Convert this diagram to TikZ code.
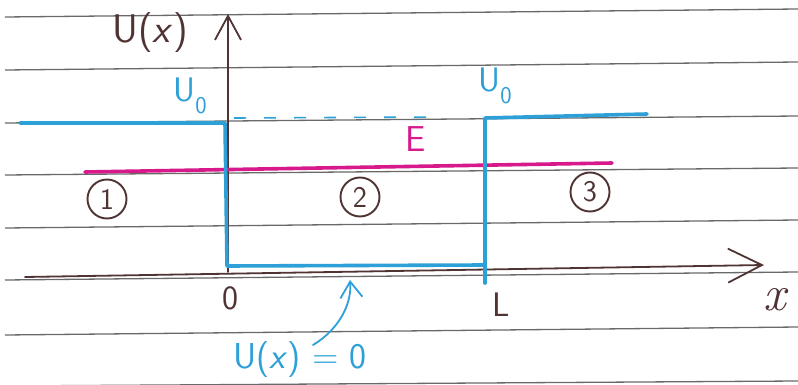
\documentclass[tikz,border=0pt]{standalone}
\usepackage{fontspec}
\usetikzlibrary{arrows.meta}
\definecolor{potblue}{RGB}{45,160,215}
\definecolor{emag}{RGB}{215,25,140}
\definecolor{ink}{RGB}{80,52,52}
\definecolor{rulegray}{RGB}{105,105,105}
\begin{document}
\begin{tikzpicture}[x=1pt,y=-1pt,
  rule/.style={draw=rulegray,line width=1.3pt},
  axisline/.style={draw=ink,line width=1.8pt,line cap=round},
  pot/.style={draw=potblue,line width=3.6pt,line join=round,line cap=round},
  lbl/.style={inner sep=0pt,font=\sffamily\fontsize{#1}{#1}\selectfont},
  region/.style={circle,draw=ink,line width=1.9pt,minimum size=39pt,inner sep=0pt,text=ink,font=\sffamily\fontsize{30}{30}\selectfont}
]
\useasboundingbox (0,0) rectangle (798,385);
\fill[white] (0,0) rectangle (798,385);
% ruled paper
\foreach \yl/\yr in {17/9,70/62,123/116,175/168,228/220,280/272,335/327,386/381}
  \draw[rule] (5,\yl) -- (798,\yr);
% coordinates
\coordinate (yb) at (228,272);
\coordinate (yt) at (228,14);
\coordinate (xl) at (25,277);
\coordinate (xr) at (764,265);
\coordinate (p1) at (20,123);
\coordinate (p2) at (225,123);
\coordinate (p3) at (227,266);
\coordinate (p4) at (485,265);
\coordinate (p5) at (485,118);
\coordinate (p6) at (647,114);
\coordinate (pb) at (485,283);
\coordinate (d1) at (234,118);
\coordinate (d2) at (440,117);
\coordinate (e1) at (85,172);
\coordinate (e2) at (612,163);
\coordinate (a1) at (313,345);
\coordinate (a2) at (350,280);
% axes
\draw[axisline,-{Straight Barb[length=24pt,width=26pt,line width=1.8pt]}] (yb) -- (yt);
\draw[axisline,-{Straight Barb[length=34pt,width=34pt,line width=1.8pt]}] (xl) -- (xr);
% energy level
\draw[draw=emag,line width=3.6pt,line cap=round] (e1) -- (e2);
% potential
\draw[pot] (p1) -- (p2) -- (p3) -- (p4) -- (p5) -- (p6);
\draw[pot] (p4) -- (pb);
\draw[draw=potblue,line width=1.6pt,dash pattern=on 12pt off 18pt] (d1) -- (d2);
% labels
\node[lbl=40,text=ink] (ulab) at (150,33) {U(\textit{x})};
\node[lbl=34,text=potblue] (u0l) at (190,96) {U\raisebox{-12pt}{\fontsize{24}{24}\selectfont 0}};
\node[lbl=34,text=potblue] (u0r) at (495,86) {U\raisebox{-12pt}{\fontsize{24}{24}\selectfont 0}};
\node[lbl=36,text=emag] (elab) at (416,139) {E};
\node[lbl=34,text=ink] (zero) at (230,298) {0};
\node[lbl=34,text=ink] (llab) at (501,305) {L};
\node[lbl=50,text=ink,font=\rmfamily\itshape\fontsize{50}{50}\selectfont] (xlab) at (775,300) {x};
\node[lbl=36,text=potblue] (u0eq) at (300,360) {U(\textit{x}) = 0};
% regions
\node[region] (r1) at (107,199) {1};
\node[region] (r2) at (360,197) {2};
\node[region] (r3) at (590,192) {3};
% pointer arrow
\draw[draw=potblue,line width=1.8pt,line cap=round,-{Straight Barb[length=16pt,width=22pt,line width=1.8pt]}] (a1) .. controls (338,330) and (352,305) .. (a2);
\end{tikzpicture}
\end{document}
